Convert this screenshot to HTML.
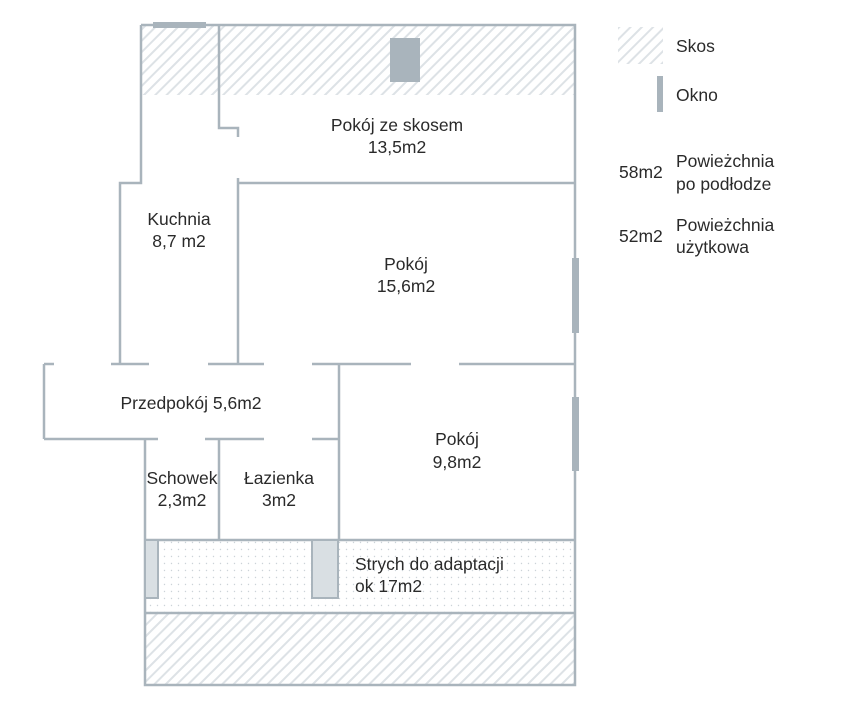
<!DOCTYPE html>
<html><head><meta charset="utf-8"><style>
html,body{margin:0;padding:0;background:#fff;}
text{font-family:"Liberation Sans",sans-serif;font-size:17.5px;fill:#2a2a2a;}
</style></head><body>
<svg width="850" height="700" viewBox="0 0 850 700" xmlns="http://www.w3.org/2000/svg">
<defs>
<pattern id="h" width="8" height="8" patternUnits="userSpaceOnUse" patternTransform="rotate(45)">
<rect width="8" height="8" fill="#fff"/><rect width="2" height="8" fill="#dde2e6"/>
</pattern>
<pattern id="d" width="7" height="7" patternUnits="userSpaceOnUse">
<rect width="7" height="7" fill="#fff"/><circle cx="3.5" cy="3.5" r="0.7" fill="#ccd3d8"/>
</pattern>
</defs>
<rect x="141" y="25" width="434" height="70" fill="url(#h)"/>
<rect x="145" y="613" width="430" height="72" fill="url(#h)"/>
<rect x="145" y="540" width="430" height="73" fill="url(#d)"/>
<rect x="618" y="27" width="45" height="37" fill="url(#h)"/>
<g stroke="#a9b4bc" stroke-width="2.5" fill="none">
<path d="M141 25H575V685H145V540"/>
<path d="M141 25V183H120V364"/>
<path d="M219 25V128H238V137"/>
<path d="M238 178V364"/>
<path d="M238 183H575"/>
<path d="M44 364H54M111 364H149M208 364H264M312 364H339"/>
<path d="M339 364H411M459 364H575"/>
<path d="M44 364V439"/>
<path d="M44 439H158M205 439H264M312 439H339"/>
<path d="M339 364V540"/>
<path d="M145 439V540M219 439V540"/>
<path d="M145 540H575M145 613H575"/>
</g>
<g fill="#a9b4bc">
<rect x="153" y="22" width="53" height="6"/>
<rect x="390" y="38" width="30" height="44"/>
<rect x="572" y="258" width="7" height="75"/>
<rect x="572" y="397" width="7" height="74"/>
<rect x="657" y="76" width="6" height="36"/>
</g>
<g fill="#d9dfe3" stroke="#a9b4bc" stroke-width="2">
<rect x="145" y="540" width="13" height="58"/>
<rect x="312" y="540" width="26" height="58"/>
</g>
<g text-anchor="middle">
<text x="397" y="131">Pokój ze skosem</text>
<text x="397" y="153">13,5m2</text>
<text x="179" y="225">Kuchnia</text>
<text x="179" y="247">8,7 m2</text>
<text x="406" y="270">Pokój</text>
<text x="406" y="292">15,6m2</text>
<text x="191" y="409">Przedpokój 5,6m2</text>
<text x="457" y="445">Pokój</text>
<text x="457" y="468">9,8m2</text>
<text x="182" y="484">Schowek</text>
<text x="182" y="506">2,3m2</text>
<text x="279" y="484">Łazienka</text>
<text x="279" y="506">3m2</text>
</g>
<text x="355" y="570">Strych do adaptacji</text>
<text x="355" y="592">ok 17m2</text>
<text x="676" y="52">Skos</text>
<text x="676" y="101">Okno</text>
<text x="619" y="178">58m2</text>
<text x="676" y="167">Powieżchnia</text>
<text x="676" y="190">po podłodze</text>
<text x="619" y="242">52m2</text>
<text x="676" y="231">Powieżchnia</text>
<text x="676" y="253">użytkowa</text>
</svg>
</body></html>
